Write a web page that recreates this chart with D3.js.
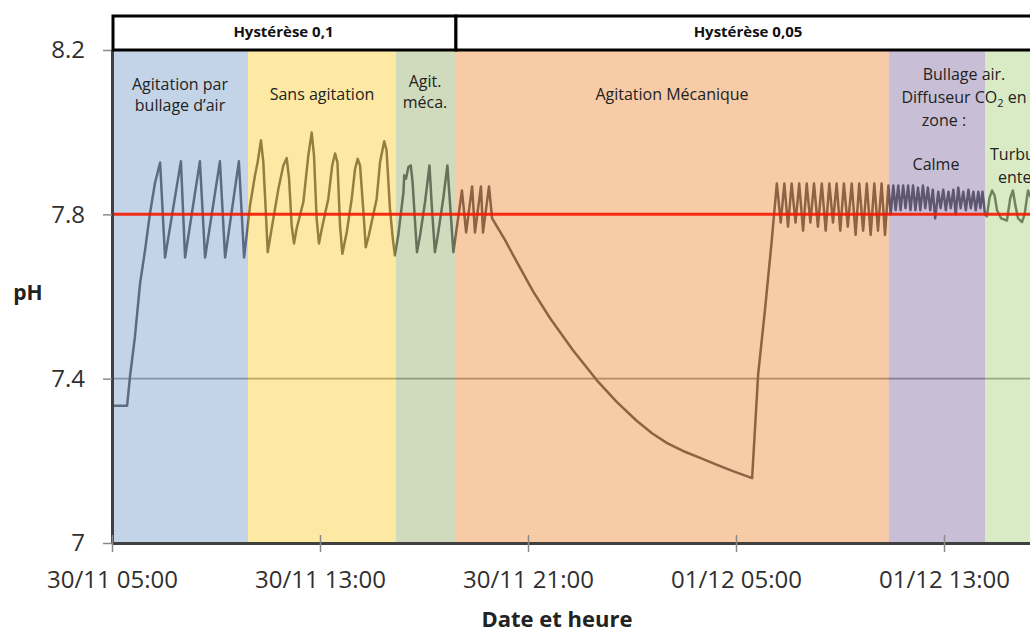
<!DOCTYPE html>
<html><head><meta charset="utf-8">
<script src="https://cdn.jsdelivr.net/npm/d3@7"></script>
<style>
body{margin:0;background:#fff;}
svg{display:block;font-family:"Open Sans",sans-serif;}
</style>
</head><body>
<svg id="chart" width="1030" height="632"></svg>
<script>
// ---- data ----
const startTime = new Date(2014, 10, 30, 5, 0);   // 30/11 05:00
const endHours = 38;
// hours since 30/11 05:00
const hours = [
 0,0.58,0.69,0.88,1.08,1.27,1.46,1.65,1.85,
 2.04,2.65,2.81,3.38,3.58,4.15,4.35,4.88,5.08,
 5.31,5.50,5.60,5.73,5.82,5.91,5.99,6.14,6.40,6.59,6.72,6.81,6.91,7.00,
 7.10,7.36,7.55,7.68,7.77,7.87,7.96,8.07,8.32,8.47,8.58,8.67,8.77,8.86,
 9.03,9.22,9.35,9.45,9.54,9.67,9.76,9.88,10.18,10.31,10.40,10.47,10.56,10.69,10.80,10.88,
 11.01,11.21,11.24,11.31,11.40,11.49,11.56,11.68,11.73,11.85,12.04,12.21,12.30,12.42,12.55,12.74,12.90,12.97,13.13,
 13.46,13.62,13.85,13.96,14.19,14.27,14.50,14.62,
 15.12,15.58,16.19,16.85,17.73,18.65,19.42,20.19,20.77,21.35,21.96,22.62,23.27,23.88,24.62,
 24.85,25.12,25.37,25.57,
 25.72,25.86,26.00,26.14,26.29,26.43,26.58,26.72,26.86,27.00,27.15,27.30,27.45,27.59,27.73,27.87,28.01,28.15,28.30,28.45,28.60,28.74,28.89,29.03,29.18,29.32,29.46,29.60,29.73,29.86,29.95,
 30.05,30.14,30.24,30.33,30.43,30.52,30.62,30.71,30.81,30.90,31.00,31.09,31.19,31.28,31.38,31.47,31.57,31.66,31.78,31.87,31.97,32.07,32.17,32.26,32.36,32.45,32.55,32.64,32.74,32.84,32.94,33.03,33.13,33.22,33.32,33.40,33.48,33.58,
 33.65,33.75,33.85,33.95,34.04,34.20,34.42,34.55,34.65,34.75,34.85,35.00,35.10,35.23,35.35,35.45,35.60
];
const ph = [
 7.334,7.334,7.404,7.501,7.632,7.712,7.802,7.875,7.926,
 7.695,7.929,7.695,7.929,7.695,7.929,7.695,7.929,7.695,
 7.822,7.895,7.926,7.980,7.927,7.814,7.708,7.765,7.862,7.919,7.937,7.887,7.773,7.729,
 7.765,7.830,7.943,7.999,7.943,7.790,7.729,7.765,7.838,7.919,7.948,7.927,7.773,7.704,
 7.757,7.838,7.911,7.935,7.919,7.806,7.720,7.749,7.838,7.927,7.956,7.978,7.956,7.814,7.741,7.700,
 7.749,7.854,7.895,7.887,7.915,7.919,7.879,7.757,7.708,7.749,7.830,7.919,7.820,7.708,7.757,7.838,7.919,7.854,7.708,
 7.858,7.756,7.868,7.756,7.868,7.756,7.868,7.790,
 7.737,7.683,7.613,7.547,7.469,7.396,7.343,7.297,7.267,7.243,7.224,7.207,7.190,7.175,7.158,
 7.409,7.571,7.733,7.875,
 7.78,7.875,7.77,7.875,7.78,7.875,7.76,7.875,7.78,7.875,7.77,7.875,7.76,7.875,7.78,7.875,7.76,7.875,7.77,7.875,7.75,7.875,7.76,7.875,7.75,7.875,7.76,7.875,7.75,7.87,7.80,
 7.87,7.81,7.87,7.81,7.87,7.815,7.87,7.81,7.87,7.81,7.865,7.81,7.87,7.815,7.865,7.81,7.86,7.79,7.855,7.815,7.86,7.81,7.855,7.815,7.86,7.80,7.865,7.815,7.855,7.81,7.86,7.815,7.855,7.81,7.855,7.815,7.855,7.80,
 7.795,7.84,7.858,7.845,7.81,7.79,7.785,7.84,7.858,7.82,7.79,7.781,7.80,7.858,7.84,7.80,7.79
];
const setpoint = 7.8;
const yTicks = [7, 7.4, 7.8, 8.2];
const yTickLabels = ["7", "7.4", "7.8", "8.2"];
const gridValues = [7.4];
const xTickHours = [0, 8, 16, 24, 32];
const xTickLabels = ["30/11 05:00", "30/11 13:00", "30/11 21:00", "01/12 05:00", "01/12 13:00"];
const phaseStart = [0, 5.23, 10.92, 13.19, 29.88, 33.58];
const phaseEnd   = [5.23, 10.92, 13.19, 29.88, 33.58, 38];
const phaseColors = ["#89a9d1", "#fbd149", "#a1b57b", "#ef974d", "#917fad", "#b3d789"];
const hystNames = ["Hystérèse 0,1", "Hystérèse 0,05"];
const hystStart = [0, 13.19];
const hystEnd = [13.19, 38];

// ---- chart ----
const svg = d3.select("#chart");
const toDate = h => new Date(startTime.getTime() + h * 3600e3);
const x = d3.scaleTime().domain([startTime, toDate(endHours)]).range([112, 1100]);
const y = d3.scaleLinear().domain([7, 8.2]).range([543, 50]);
const data = hours.map((h, i) => ({t: toDate(h), v: ph[i]}));

// gridline
svg.selectAll("line.grid").data(gridValues).join("line")
  .attr("class", "grid")
  .attr("x1", x.range()[0]).attr("x2", x.range()[1])
  .attr("y1", d => y(d)).attr("y2", d => y(d))
  .attr("stroke", "#808080").attr("stroke-width", 1.6);

// data line
svg.append("path").datum(data)
  .attr("fill", "none").attr("stroke", "#2d2d37").attr("stroke-width", 2.5)
  .attr("stroke-linejoin", "round")
  .attr("d", d3.line().x(d => x(d.t)).y(d => y(d.v)));

// phase overlays
svg.selectAll("rect.phase").data(phaseStart).join("rect")
  .attr("class", "phase")
  .attr("x", (d) => x(toDate(d)))
  .attr("width", (d, i) => x(toDate(phaseEnd[i])) - x(toDate(d)))
  .attr("y", y(8.2)).attr("height", y(7) - y(8.2))
  .attr("fill", (d, i) => phaseColors[i]).attr("fill-opacity", 0.5);

// set point line
svg.append("line")
  .attr("x1", x.range()[0]).attr("x2", x.range()[1])
  .attr("y1", y(setpoint)).attr("y2", y(setpoint))
  .attr("stroke", "#f51800").attr("stroke-opacity", 0.9).attr("stroke-width", 3);

// axes
const yAxis = svg.append("g").attr("transform", `translate(${x.range()[0]},0)`)
  .call(d3.axisLeft(y).tickValues(yTicks).tickSizeInner(9).tickSizeOuter(0).tickPadding(18)
    .tickFormat((d, i) => yTickLabels[i]));
yAxis.select(".domain").attr("stroke", "#404040").attr("stroke-width", 3);
yAxis.selectAll(".tick line").attr("stroke", "#8a8a8a").attr("stroke-width", 1.5);
yAxis.selectAll(".tick text").attr("font-size", 24).attr("fill", "#303030")
  .attr("font-family", "Open Sans");

const xAxis = svg.append("g").attr("transform", `translate(0,${y(7)})`)
  .call(d3.axisBottom(x).tickValues(xTickHours.map(toDate)).tickSizeInner(9).tickSizeOuter(0)
    .tickFormat((d, i) => xTickLabels[i]));
xAxis.select(".domain").attr("stroke", "#404040").attr("stroke-width", 3);
xAxis.selectAll(".tick line").attr("y1", -8).attr("y2", 9)
  .attr("stroke", "#8a8a8a").attr("stroke-width", 1.5);
xAxis.selectAll(".tick text").attr("y", 45).attr("dy", 0)
  .attr("font-size", 24).attr("fill", "#303030").attr("font-family", "Open Sans");

// axis titles
svg.append("text").attr("x", 28).attr("y", 300).attr("text-anchor", "middle")
  .attr("font-size", 21).attr("font-weight", "bold").attr("fill", "#222").text("pH");
svg.append("text").attr("x", 557).attr("y", 627).attr("text-anchor", "middle")
  .attr("font-size", 22).attr("font-weight", "bold").attr("fill", "#222").text("Date et heure");

// phase labels
const labels = [
  {cx: 180, y: 90, lines: ["Agitation par", "bullage d’air"]},
  {cx: 322, y: 100, lines: ["Sans agitation"]},
  {cx: 425, y: 87, lines: ["Agit.", "méca."]},
  {cx: 672, y: 100, lines: ["Agitation Mécanique"]},
  {cx: 936, y: 170, lines: ["Calme"]}
];
labels.forEach(l => {
  l.lines.forEach((s, j) => {
    svg.append("text").attr("x", l.cx).attr("y", l.y + j * 21).attr("text-anchor", "middle")
      .attr("font-size", 16).attr("fill", "#222").text(s);
  });
});
svg.append("text").attr("x", 964).attr("y", 80).attr("text-anchor", "middle")
  .attr("font-size", 16).attr("fill", "#222").text("Bullage air.");
const co2 = svg.append("text").attr("x", 964).attr("y", 103).attr("text-anchor", "middle")
  .attr("font-size", 16).attr("fill", "#222");
co2.append("tspan").text("Diffuseur CO");
co2.append("tspan").attr("font-size", 11).attr("dy", 4).text("2");
co2.append("tspan").attr("dy", -4).text(" en");
svg.append("text").attr("x", 944).attr("y", 126).attr("text-anchor", "middle")
  .attr("font-size", 16).attr("fill", "#222").text("zone :");
svg.append("text").attr("x", 990).attr("y", 160).attr("font-size", 16).attr("fill", "#222").text("Turbulence");
svg.append("text").attr("x", 998).attr("y", 183).attr("font-size", 16).attr("fill", "#222").text("entente");

// header boxes
const hdr = svg.append("g");
hdr.selectAll("rect").data(hystStart).join("rect")
  .attr("x", d => x(toDate(d)) + 1)
  .attr("width", (d, i) => x(toDate(hystEnd[i])) - x(toDate(d)))
  .attr("y", 16).attr("height", 34)
  .attr("fill", "#fff").attr("stroke", "#000").attr("stroke-width", 3);
hdr.selectAll("text").data(hystStart).join("text")
  .attr("x", (d, i) => i === 0 ? (x(toDate(d)) + x(toDate(hystEnd[i]))) / 2 : 748)
  .attr("y", 37).attr("text-anchor", "middle")
  .attr("font-size", 15).attr("font-weight", "bold").attr("fill", "#111")
  .text((d, i) => hystNames[i]);
</script>
</body></html>
